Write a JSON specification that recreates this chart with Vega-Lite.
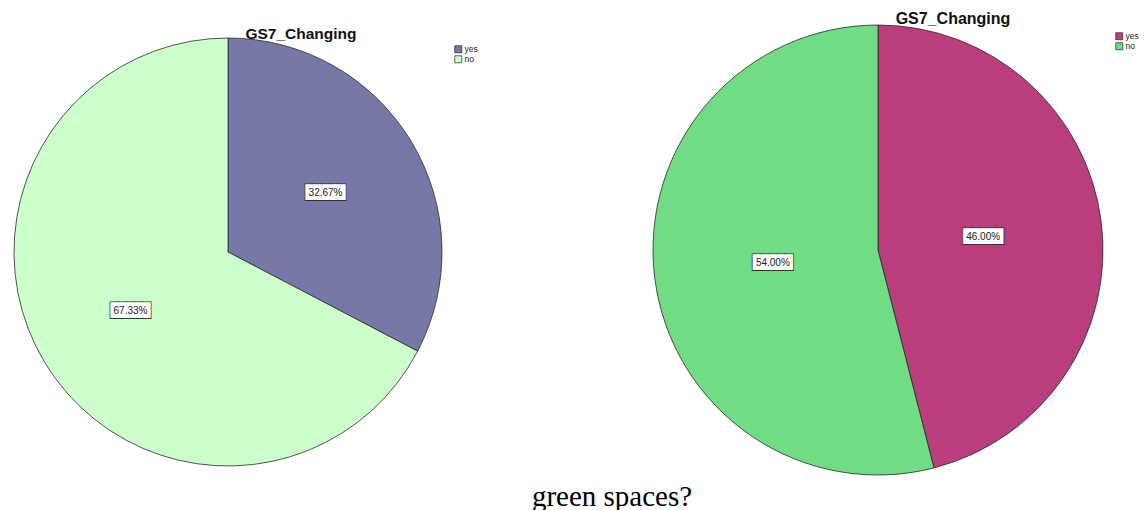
{
  "$schema": "https://vega.github.io/schema/vega-lite/v6.json",
  "background": "white",
  "padding": {"left": 3, "top": 11, "right": 0, "bottom": 0},
  "config": {
    "view": {"stroke": null},
    "font": "Liberation Sans",
    "title": {"font": "Liberation Sans", "fontSize": 15.5, "fontWeight": "bold", "color": "#111"}
  },
  "title": {
    "text": "green spaces?",
    "orient": "bottom",
    "anchor": "middle",
    "font": "Liberation Serif",
    "fontSize": 29,
    "fontWeight": "normal",
    "color": "black",
    "offset": 6,
    "dx": 41
  },
  "spacing": 164,
  "resolve": {"scale": {"color": "independent", "theta": "independent"}, "legend": {"color": "independent"}},
  "hconcat": [
    {
      "width": 450,
      "height": 416,
      "title": {"text": "GS7_Changing", "dx": 73, "offset": -6},
      "data": {"values": [
        {"answer": "yes", "share": 0.3267},
        {"answer": "no", "share": 0.6733}
      ]},
      "encoding": {
        "theta": {"field": "share", "type": "quantitative", "stack": true},
        "order": {"field": "answer", "sort": "descending"},
        "detail": {"field": "answer"}
      },
      "layer": [
        {
          "mark": {"type": "arc", "outerRadius": 214, "stroke": "#2a2a2a", "strokeWidth": 0.8},
          "encoding": {
            "color": {
              "field": "answer", "type": "nominal",
              "scale": {"domain": ["yes", "no"], "range": ["#7878A8", "#CCFFCC"]},
              "legend": {
                "title": null, "orient": "none", "legendX": 451, "legendY": 1,
                "symbolType": "square", "symbolSize": 49, "symbolStrokeColor": "#222",
                "symbolStrokeWidth": 0.7, "labelFontSize": 8.5, "labelFont": "Liberation Sans",
                "labelColor": "#222", "labelOffset": 2, "rowPadding": -1.5, "padding": 0, "offset": 0
              }
            }
          }
        },
        {
          "mark": {"type": "text", "radius": 114, "font": "DejaVu Sans Mono", "fontSize": 13.3, "fill": "white", "stroke": "#333", "strokeWidth": 1.6},
          "encoding": {"text": {"value": "█████"}}
        },
        {
          "mark": {"type": "text", "radius": 114, "font": "DejaVu Sans Mono", "fontSize": 13.3, "fill": "white"},
          "encoding": {"text": {"value": "█████"}}
        },
        {
          "mark": {"type": "text", "radius": 114, "font": "Liberation Sans", "fontSize": 10, "fill": "#222"},
          "encoding": {"text": {"field": "share", "type": "quantitative", "format": ".2%"}}
        }
      ]
    },
    {
      "width": 472,
      "height": 412,
      "title": {"text": "GS7_Changing", "dx": 75, "offset": -4, "fontSize": 16},
      "data": {"values": [
        {"answer": "yes", "share": 0.46},
        {"answer": "no", "share": 0.54}
      ]},
      "encoding": {
        "theta": {"field": "share", "type": "quantitative", "stack": true},
        "order": {"field": "answer", "sort": "descending"},
        "detail": {"field": "answer"}
      },
      "layer": [
        {
          "mark": {"type": "arc", "outerRadius": 225, "stroke": "#2a2a2a", "strokeWidth": 0.8},
          "encoding": {
            "color": {
              "field": "answer", "type": "nominal",
              "scale": {"domain": ["yes", "no"], "range": ["#BA3E7C", "#70DC84"]},
              "legend": {
                "title": null, "orient": "none", "legendX": 473, "legendY": -12,
                "symbolType": "square", "symbolSize": 49, "symbolStrokeColor": "#222",
                "symbolStrokeWidth": 0.7, "labelFontSize": 8.5, "labelFont": "Liberation Sans",
                "labelColor": "#222", "labelOffset": 2, "rowPadding": -1.5, "padding": 0, "offset": 0
              }
            }
          }
        },
        {
          "mark": {"type": "text", "radius": 106, "font": "DejaVu Sans Mono", "fontSize": 13.3, "fill": "white", "stroke": "#333", "strokeWidth": 1.6},
          "encoding": {"text": {"value": "█████"}}
        },
        {
          "mark": {"type": "text", "radius": 106, "font": "DejaVu Sans Mono", "fontSize": 13.3, "fill": "white"},
          "encoding": {"text": {"value": "█████"}}
        },
        {
          "mark": {"type": "text", "radius": 106, "font": "Liberation Sans", "fontSize": 10, "fill": "#222"},
          "encoding": {"text": {"field": "share", "type": "quantitative", "format": ".2%"}}
        }
      ]
    }
  ]
}
